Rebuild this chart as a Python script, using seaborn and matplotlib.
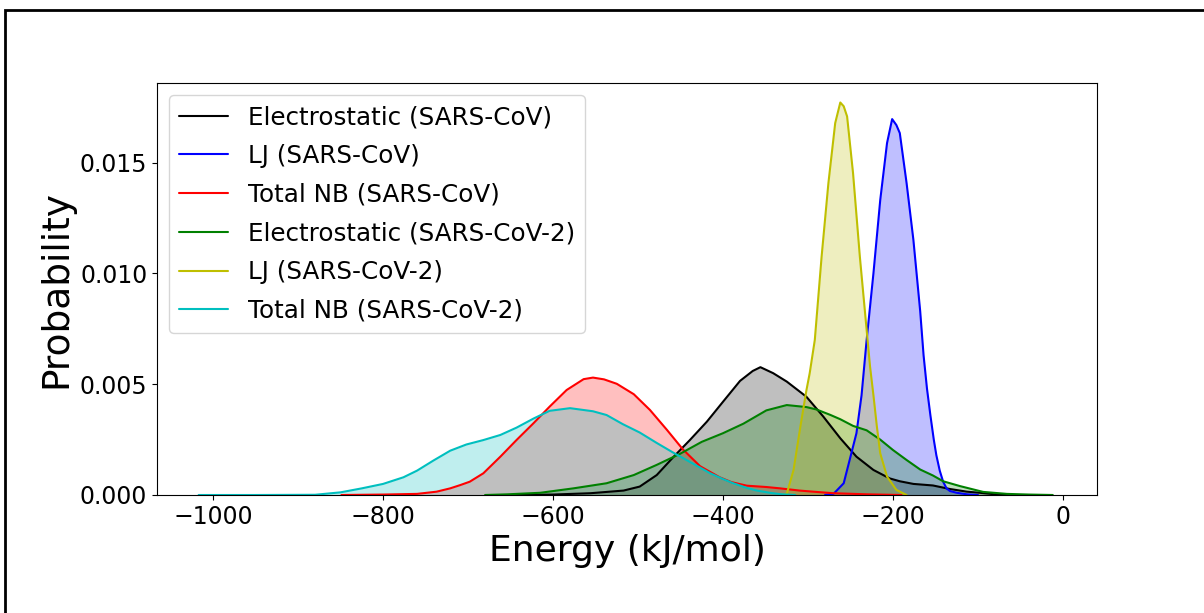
import numpy as np
import pandas as pd
import matplotlib
matplotlib.use("Agg")
import matplotlib.pyplot as plt
import seaborn as sns
from matplotlib.patches import Rectangle

# energy (kJ/mol) / probability density
elec_cov_x = [-650, -600, -556, -517, -498, -478, -458, -439, -419, -400, -380, -365, -356, -341,
              -325, -302, -282, -262, -243, -223, -204, -192, -176, -153, -133, -113, -98, -80, -60]
elec_cov_y = [0, 0.00002, 0.00008, 0.0002, 0.00038, 0.0009, 0.00173, 0.00248, 0.00331, 0.00421,
              0.00515, 0.0056, 0.00577, 0.0055, 0.00512, 0.00444, 0.00354, 0.00256, 0.00173,
              0.00113, 0.00075, 0.00062, 0.0005, 0.00043, 0.00027, 0.00015, 0.0001, 0.00003, 0]

lj_cov_x = [-280, -270, -258, -251, -243, -237, -231, -223, -215, -207, -201, -196, -192, -184,
            -176, -168, -164, -160, -156, -152, -149, -145, -141, -137, -133, -125, -113, -100]
lj_cov_y = [0, 0.00005, 0.00053, 0.00158, 0.00279, 0.0045, 0.007, 0.01001, 0.01332, 0.01589,
            0.01697, 0.0167, 0.01634, 0.01408, 0.01152, 0.0083, 0.0063, 0.0048, 0.0036, 0.0025,
            0.0018, 0.0011, 0.0006, 0.0003, 0.00018, 0.0001, 0.00003, 0]

nb_cov_x = [-849, -800, -760, -737, -721, -709, -698, -682, -662, -643, -623, -604, -584, -564,
            -553, -540, -525, -505, -486, -466, -447, -427, -404, -390, -372, -349, -333, -310,
            -294, -270, -230, -190]
nb_cov_y = [0, 0.00002, 0.00005, 0.00015, 0.0003, 0.00045, 0.0006, 0.00098, 0.00173, 0.00248,
            0.00324, 0.00399, 0.00474, 0.00523, 0.0053, 0.00522, 0.00502, 0.00455, 0.00384,
            0.00294, 0.00205, 0.0013, 0.0008, 0.00058, 0.00042, 0.00036, 0.0003, 0.0002,
            0.00015, 0.00008, 0.00003, 0]

elec_cov2_x = [-680, -654, -615, -576, -537, -505, -478, -451, -425, -400, -376, -349, -325, -302,
               -290, -274, -262, -247, -231, -215, -200, -184, -168, -153, -141, -121, -94, -66,
               -40, -12]
elec_cov2_y = [0, 0.00003, 0.0001, 0.0003, 0.00053, 0.0009, 0.00136, 0.00185, 0.0024, 0.00279,
               0.00322, 0.00382, 0.00406, 0.00397, 0.00386, 0.00362, 0.00342, 0.00312, 0.00292,
               0.0025, 0.00203, 0.00158, 0.00115, 0.00088, 0.00062, 0.0004, 0.00014, 0.00005,
               0.00002, 0]

lj_cov2_x = [-335, -325, -317, -309, -302, -298, -292, -284, -276, -268, -262, -258, -254, -247,
             -239, -231, -227, -223, -219, -215, -207, -196, -184]
lj_cov2_y = [0, 0.00005, 0.00113, 0.00308, 0.0047, 0.0055, 0.007, 0.01076, 0.01408, 0.01679,
             0.01772, 0.01755, 0.01709, 0.01453, 0.01076, 0.00745, 0.0058, 0.0045, 0.0031,
             0.00188, 0.00083, 0.00023, 0]

nb_cov2_x = [-1017, -950, -880, -850, -825, -800, -776, -760, -741, -721, -702, -682, -662, -643,
             -623, -604, -580, -553, -537, -518, -498, -478, -458, -443, -415, -400, -388, -372,
             -360, -345, -333, -315]
nb_cov2_y = [0, 0, 0.00001, 0.00012, 0.0003, 0.0005, 0.0008, 0.0011, 0.00155, 0.002, 0.00228,
             0.00248, 0.00271, 0.00304, 0.00345, 0.0038, 0.00392, 0.00378, 0.00361, 0.0032,
             0.00282, 0.00235, 0.0019, 0.00158, 0.00098, 0.00072, 0.00053, 0.00032, 0.0002,
             0.0001, 0.00004, 0]

labels = ["Electrostatic (SARS-CoV)", "LJ (SARS-CoV)", "Total NB (SARS-CoV)",
          "Electrostatic (SARS-CoV-2)", "LJ (SARS-CoV-2)", "Total NB (SARS-CoV-2)"]
colors = ["k", "b", "r", "g", "y", "c"]
series = [(elec_cov_x, elec_cov_y), (lj_cov_x, lj_cov_y), (nb_cov_x, nb_cov_y),
          (elec_cov2_x, elec_cov2_y), (lj_cov2_x, lj_cov2_y), (nb_cov2_x, nb_cov2_y)]

sns.set_style("ticks", {"axes.edgecolor": "black", "xtick.color": "black",
                        "ytick.color": "black", "axes.linewidth": 0.8,
                        "text.color": "black", "axes.labelcolor": "black"})
plt.rcParams["font.family"] = ["DejaVu Sans"]
plt.rcParams["xtick.major.size"] = 3.5
plt.rcParams["ytick.major.size"] = 3.5
plt.rcParams["xtick.major.width"] = 0.8
plt.rcParams["ytick.major.width"] = 0.8

fig = plt.figure(figsize=(12.04, 6.13), dpi=100)
ax = fig.add_axes([0.1304, 0.1925, 0.7807, 0.6721])

for (xs, ys), lab, col in zip(series, labels, colors):
    df = pd.DataFrame({"Energy": xs, "Density": ys})
    sns.lineplot(data=df, x="Energy", y="Density", color=col, label=lab, ax=ax, linewidth=1.5)
    ax.fill_between(df["Energy"], df["Density"], color=col, alpha=0.25, linewidth=0)

ax.set_xlim(-1066, 40)
ax.set_ylim(0, 0.0186)
ax.set_xticks([-1000, -800, -600, -400, -200, 0])
ax.set_yticks([0, 0.005, 0.010, 0.015])
ax.set_yticklabels(["0.000", "0.005", "0.010", "0.015"])
ax.tick_params(labelsize=17)
ax.set_xlabel("Energy (kJ/mol)", fontsize=26)
ax.set_ylabel("Probability", fontsize=27)
ax.legend(loc="upper left", fontsize=17.7, frameon=True, fancybox=True, framealpha=0.8,
          edgecolor="0.8", labelspacing=0.6)

# outer frame around the picture (top and left edges visible)
fig.patches.append(Rectangle((5 / 1204, -0.1), 1.2, 1 - 10 / 613 + 0.1, transform=fig.transFigure,
                             fill=False, edgecolor="black", linewidth=2, clip_on=False))

fig.savefig("out.png", dpi=100)
